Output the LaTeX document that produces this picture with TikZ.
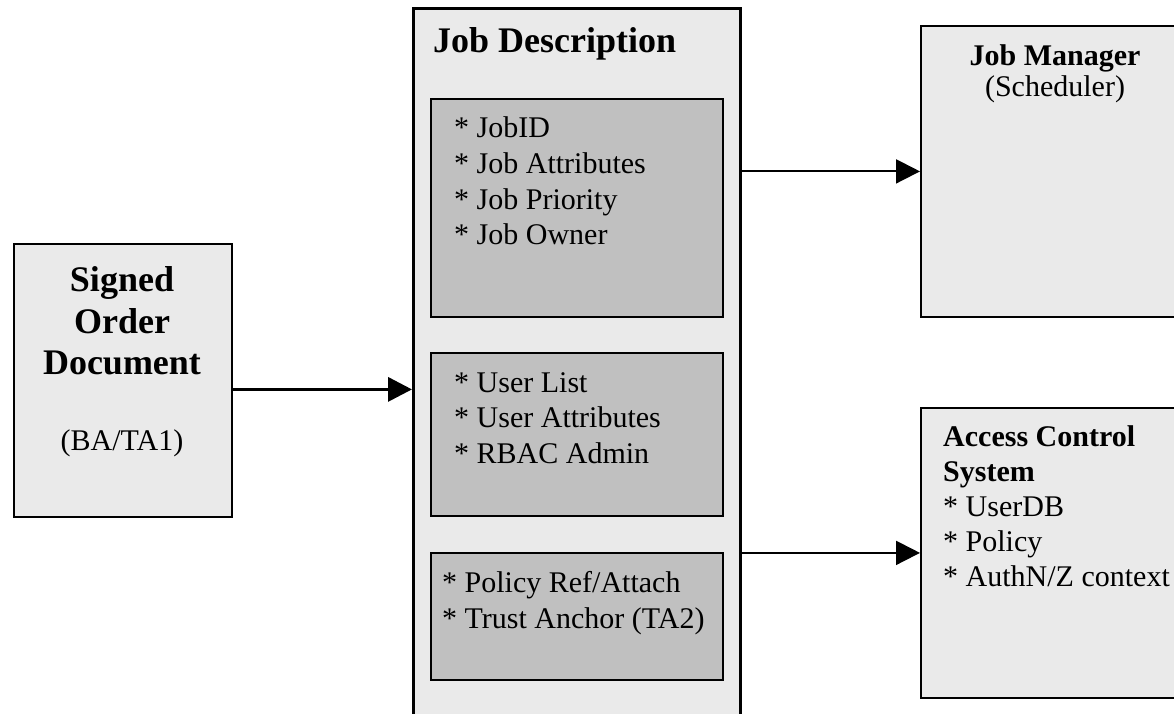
\documentclass[tikz,border=0pt]{standalone}
\usepackage{fontspec}
\setmainfont{Liberation Serif}
\usetikzlibrary{arrows.meta}

\definecolor{boxgray}{HTML}{EAEAEA}
\definecolor{fieldgray}{HTML}{C0C0C0}

\tikzset{
  outerbox/.style={draw, fill=boxgray, line width=2.2pt, inner sep=0pt, anchor=north west},
  fieldbox/.style={draw, fill=fieldgray, line width=1.8pt, inner sep=0pt, anchor=north west},
  item/.style={anchor=base west, inner sep=0pt, font=\fontsize{30}{36}\selectfont},
  head/.style={anchor=base, inner sep=0pt, font=\fontsize{30}{36}\selectfont\bfseries},
  bighead/.style={anchor=base, inner sep=0pt, font=\fontsize{36}{42}\selectfont\bfseries},
  flow/.style={-{Triangle[length=24pt,width=24pt]}, line width=2pt}
}

\begin{document}
\begin{tikzpicture}[x=1pt, y=-1pt]
  \useasboundingbox (0,0) rectangle (1174,714);
  \clip (0,0) rectangle (1174,714);

  % signed order document
  \node[outerbox, minimum width=218pt, minimum height=273pt] (sod) at (13,243) {};
  \node[bighead] (sod1) at (122,291) {Signed};
  \node[bighead] (sod2) at (122,333) {Order};
  \node[bighead] (sod3) at (122,374) {Document};
  \node[anchor=base, inner sep=0pt, font=\fontsize{30}{36}\selectfont] (sod4) at (122,450) {(BA/TA1)};

  % job description with its three fields
  \node[outerbox, line width=2.8pt, minimum width=327pt, minimum height=762pt] (jd) at (412,7) {};
  \node[bighead, anchor=base west] (jdtitle) at (433,53) {Job Description};

  \node[fieldbox, minimum width=292pt, minimum height=218pt] (f1) at (430,98) {};
  \node[fieldbox, minimum width=292pt, minimum height=163pt] (f2) at (430,352) {};
  \node[fieldbox, minimum width=292pt, minimum height=127pt] (f3) at (430,552) {};

  \foreach \t [count=\i from 0] in {JobID, Job Attributes, Job Priority, Job Owner}
    \node[item] (a\i) at (454,{138+35.5*\i}) {* \t};
  \foreach \t [count=\i from 0] in {User List, User Attributes, RBAC Admin}
    \node[item] (b\i) at (454,{392+35.5*\i}) {* \t};
  \foreach \t [count=\i from 0] in {Policy Ref/Attach, Trust Anchor (TA2)}
    \node[item] (c\i) at (442,{592+36*\i}) {* \t};

  % job manager
  \node[outerbox, line width=1.8pt, minimum width=300pt, minimum height=291pt] (jm) at (920,25) {};
  \node[head] (jmtitle) at (1055,66) {Job Manager};
  \node[anchor=base, inner sep=0pt, font=\fontsize{30}{36}\selectfont] (jmsub) at (1055,97) {(Scheduler)};

  % access control system
  \node[outerbox, line width=1.8pt, minimum width=300pt, minimum height=290pt] (acs) at (920,407) {};
  \node[head, anchor=base west] (acs1) at (943,446) {Access Control};
  \node[head, anchor=base west] (acs2) at (943,481) {System};
  \foreach \t [count=\i from 0] in {UserDB, Policy, AuthN/Z context}
    \node[item] (d\i) at (943,{516+35*\i}) {* \t};

  % connectors
  \draw[flow, line width=3.5pt] (sod.east |- jd.west) -- (jd.west);
  \draw[flow] (jd.east |- jm.west) -- (jm.west);
  \draw[flow] (jd.east |- acs.west) -- (acs.west);
\end{tikzpicture}
\end{document}
